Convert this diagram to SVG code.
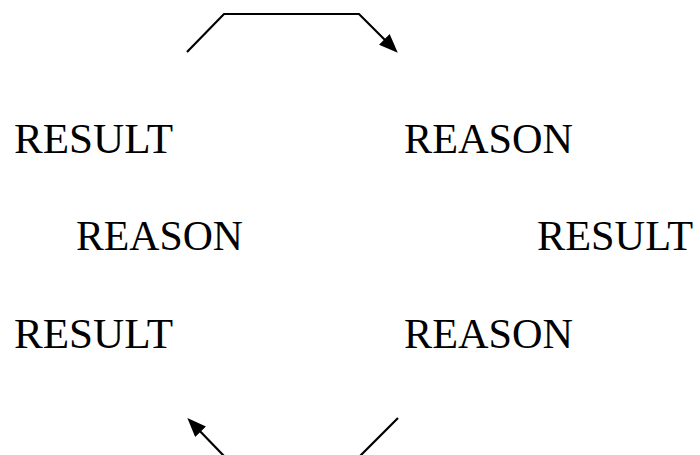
<svg xmlns="http://www.w3.org/2000/svg" width="700" height="455" viewBox="0 0 700 455">
<style>
.lbl{font-family:"Liberation Serif","Times New Roman",serif;font-size:43px;fill:#000}
.conn{fill:none;stroke:#000;stroke-width:2.2;stroke-linejoin:miter}
</style>
<defs>
<marker id="ah" viewBox="0 0 19 15" refX="8" refY="7.5" markerWidth="19" markerHeight="15" markerUnits="userSpaceOnUse" orient="auto">
<path d="M0,0 L19,7.5 L0,15 z" fill="#000"/>
</marker>
</defs>
<rect width="700" height="455" fill="#fff"/>
<g id="connectors">
<polyline class="conn" points="187,52 224,14 359,14 390,45" marker-end="url(#ah)"/>
<polyline class="conn" points="398,418 360,456 224,456 195,426" marker-end="url(#ah)"/>
</g>
<g id="n1"><text class="lbl" x="14" y="153" textLength="159" lengthAdjust="spacingAndGlyphs">RESULT</text></g>
<g id="n2"><text class="lbl" x="404" y="153" textLength="169" lengthAdjust="spacingAndGlyphs">REASON</text></g>
<g id="n3"><text class="lbl" x="76" y="250" textLength="167" lengthAdjust="spacingAndGlyphs">REASON</text></g>
<g id="n4"><text class="lbl" x="537" y="250" textLength="156" lengthAdjust="spacingAndGlyphs">RESULT</text></g>
<g id="n5"><text class="lbl" x="14" y="348" textLength="159" lengthAdjust="spacingAndGlyphs">RESULT</text></g>
<g id="n6"><text class="lbl" x="404" y="348" textLength="169" lengthAdjust="spacingAndGlyphs">REASON</text></g>
</svg>
